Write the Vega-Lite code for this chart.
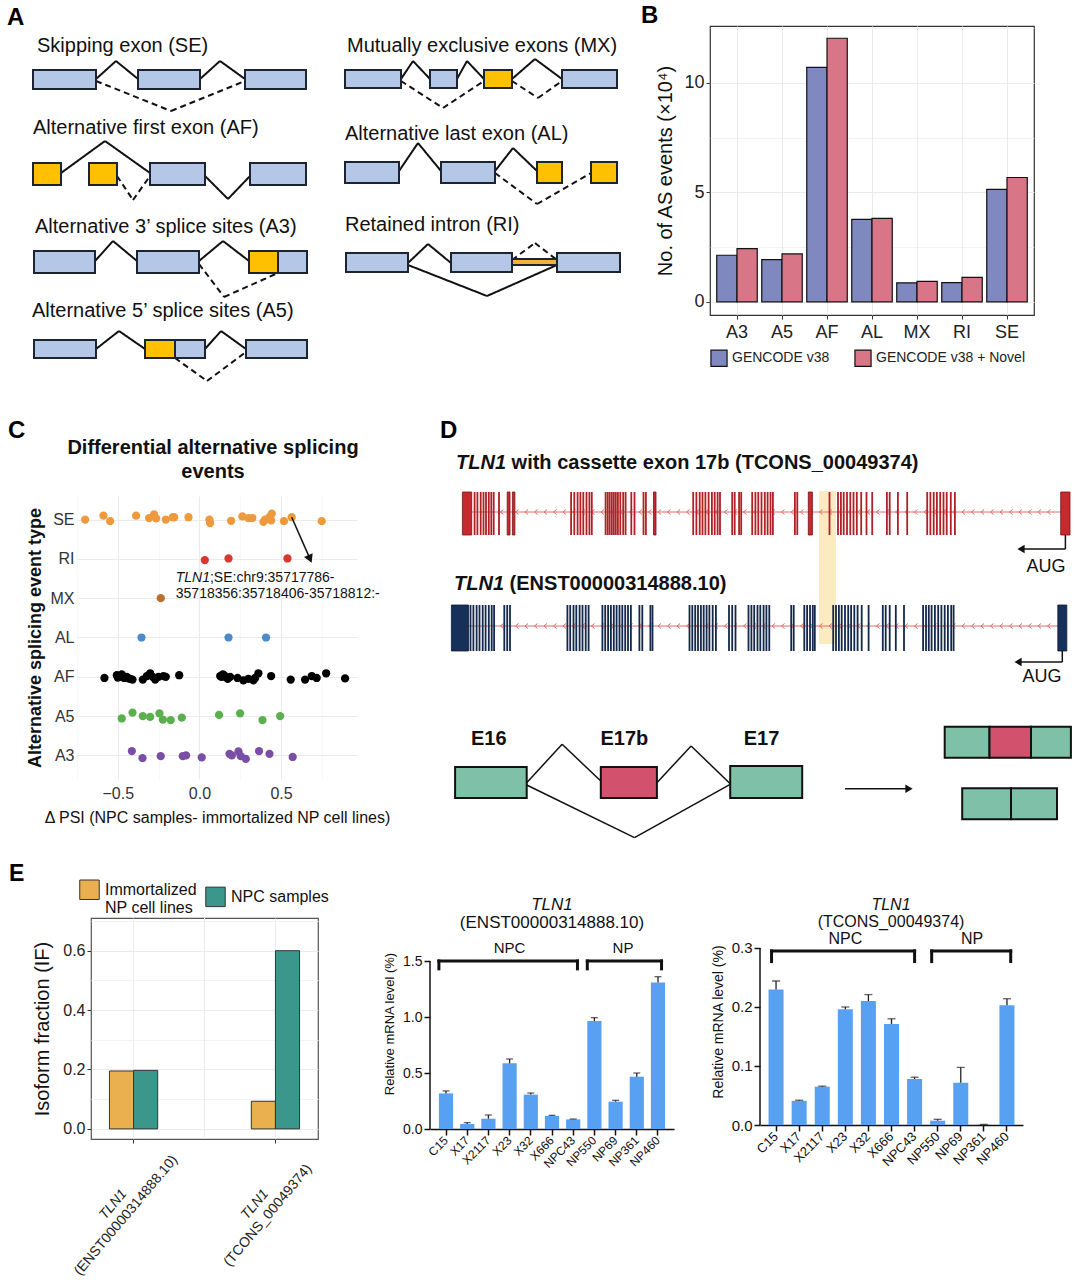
{
"$schema":"https://vega.github.io/schema/vega-lite/v6.json",
"padding":0,
"background":"white",
"spacing":20,
"config":{"font":"Liberation Sans","view":{"stroke":null}},
"resolve":{"scale":{"color":"independent","fill":"independent","shape":"independent","strokeDash":"independent","xOffset":"independent","x":"independent","y":"independent"},"legend":{"color":"independent","fill":"independent","shape":"independent","strokeDash":"independent"}},
"vconcat":[
{"hconcat":[
{"width":640,"height":370,
"layer":[
{"data":{"values":[
{"x1":96,"y1":78,"x2":116,"y2":60,"d":"s"},{"x1":116,"y1":60,"x2":138,"y2":78,"d":"s"},{"x1":200,"y1":78,"x2":220,"y2":60,"d":"s"},{"x1":220,"y1":60,"x2":245,"y2":78,"d":"s"},{"x1":96,"y1":80,"x2":171,"y2":110,"d":"d"},{"x1":171,"y1":110,"x2":245,"y2":80,"d":"d"},
{"x1":61,"y1":172,"x2":105,"y2":140,"d":"s"},{"x1":105,"y1":140,"x2":150,"y2":172,"d":"s"},{"x1":205,"y1":175,"x2":228,"y2":198,"d":"s"},{"x1":228,"y1":198,"x2":250,"y2":175,"d":"s"},{"x1":117,"y1":175,"x2":133,"y2":199,"d":"d"},{"x1":133,"y1":199,"x2":150,"y2":175,"d":"d"},
{"x1":95,"y1":260,"x2":113,"y2":240,"d":"s"},{"x1":113,"y1":240,"x2":137,"y2":260,"d":"s"},{"x1":199,"y1":260,"x2":223,"y2":240,"d":"s"},{"x1":223,"y1":240,"x2":249,"y2":260,"d":"s"},{"x1":199,"y1":263,"x2":224,"y2":296,"d":"d"},{"x1":224,"y1":296,"x2":278,"y2":272,"d":"d"},
{"x1":96,"y1":348,"x2":119,"y2":330,"d":"s"},{"x1":119,"y1":330,"x2":145,"y2":348,"d":"s"},{"x1":205,"y1":348,"x2":221,"y2":330,"d":"s"},{"x1":221,"y1":330,"x2":246,"y2":348,"d":"s"},{"x1":175,"y1":357,"x2":207,"y2":380,"d":"d"},{"x1":207,"y1":380,"x2":246,"y2":351,"d":"d"},
{"x1":401,"y1":78,"x2":413,"y2":60,"d":"s"},{"x1":413,"y1":60,"x2":430,"y2":78,"d":"s"},{"x1":457,"y1":78,"x2":467,"y2":60,"d":"s"},{"x1":467,"y1":60,"x2":484,"y2":78,"d":"s"},{"x1":512,"y1":78,"x2":535,"y2":58,"d":"s"},{"x1":535,"y1":58,"x2":562,"y2":78,"d":"s"},{"x1":401,"y1":80,"x2":443,"y2":107,"d":"d"},{"x1":443,"y1":107,"x2":484,"y2":80,"d":"d"},{"x1":512,"y1":80,"x2":538,"y2":97,"d":"d"},{"x1":538,"y1":97,"x2":562,"y2":80,"d":"d"},
{"x1":399,"y1":170,"x2":418,"y2":142,"d":"s"},{"x1":418,"y1":142,"x2":441,"y2":170,"d":"s"},{"x1":495,"y1":170,"x2":513,"y2":147,"d":"s"},{"x1":513,"y1":147,"x2":537,"y2":170,"d":"s"},{"x1":495,"y1":172,"x2":537,"y2":203,"d":"d"},{"x1":537,"y1":203,"x2":591,"y2":172,"d":"d"},
{"x1":408,"y1":262,"x2":428,"y2":243,"d":"s"},{"x1":428,"y1":243,"x2":451,"y2":262,"d":"s"},{"x1":408,"y1":264,"x2":487,"y2":295,"d":"s"},{"x1":487,"y1":295,"x2":557,"y2":264,"d":"s"},{"x1":512,"y1":259,"x2":535,"y2":242,"d":"d"},{"x1":535,"y1":242,"x2":557,"y2":259,"d":"d"}
]},
"mark":{"type":"rule","color":"#111111","strokeWidth":2},
"encoding":{
"x":{"field":"x1","type":"quantitative","scale":{"domain":[0,640],"nice":false,"zero":false},"axis":null},
"x2":{"field":"x2"},
"y":{"field":"y1","type":"quantitative","scale":{"domain":[25,395],"nice":false,"zero":false,"reverse":true},"axis":null},
"y2":{"field":"y2"},
"strokeDash":{"field":"d","type":"nominal","scale":{"domain":["s","d"],"range":[[1,0],[6,4]]},"legend":null}}},
{"data":{"values":[
{"x1":33,"x2":96,"y1":69,"y2":88,"t":"c"},{"x1":138,"x2":200,"y1":69,"y2":88,"t":"c"},{"x1":245,"x2":306,"y1":69,"y2":88,"t":"c"},
{"x1":33,"x2":61,"y1":162,"y2":184,"t":"a"},{"x1":89,"x2":117,"y1":162,"y2":184,"t":"a"},{"x1":150,"x2":205,"y1":162,"y2":184,"t":"c"},{"x1":250,"x2":306,"y1":162,"y2":184,"t":"c"},
{"x1":34,"x2":95,"y1":250,"y2":272,"t":"c"},{"x1":137,"x2":199,"y1":250,"y2":272,"t":"c"},{"x1":249,"x2":278,"y1":250,"y2":272,"t":"a"},{"x1":278,"x2":307,"y1":250,"y2":272,"t":"c"},
{"x1":34,"x2":96,"y1":339,"y2":357,"t":"c"},{"x1":145,"x2":175,"y1":339,"y2":357,"t":"a"},{"x1":175,"x2":205,"y1":339,"y2":357,"t":"c"},{"x1":246,"x2":307,"y1":339,"y2":357,"t":"c"},
{"x1":345,"x2":401,"y1":69,"y2":87,"t":"c"},{"x1":430,"x2":457,"y1":69,"y2":87,"t":"c"},{"x1":484,"x2":512,"y1":69,"y2":87,"t":"a"},{"x1":562,"x2":617,"y1":69,"y2":87,"t":"c"},
{"x1":345,"x2":399,"y1":161,"y2":182,"t":"c"},{"x1":441,"x2":495,"y1":161,"y2":182,"t":"c"},{"x1":537,"x2":562,"y1":161,"y2":182,"t":"a"},{"x1":591,"x2":617,"y1":161,"y2":182,"t":"a"},
{"x1":346,"x2":408,"y1":252,"y2":271,"t":"c"},{"x1":451,"x2":512,"y1":252,"y2":271,"t":"c"},{"x1":557,"x2":620,"y1":252,"y2":271,"t":"c"},{"x1":512,"x2":557,"y1":258,"y2":264,"t":"i"}
]},
"mark":{"type":"rect","stroke":"#1b2430","strokeWidth":2},
"encoding":{
"x":{"field":"x1","type":"quantitative","scale":{"domain":[0,640],"nice":false,"zero":false},"axis":null},
"x2":{"field":"x2"},
"y":{"field":"y1","type":"quantitative","scale":{"domain":[25,395],"nice":false,"zero":false,"reverse":true},"axis":null},
"y2":{"field":"y2"},
"fill":{"field":"t","type":"nominal","scale":{"domain":["c","a","i"],"range":["#B4C7E7","#FFC000","#F5B335"]},"legend":null}}},
{"data":{"values":[
{"tx":37,"ty":45,"label":"Skipping exon (SE)"},
{"tx":33,"ty":127,"label":"Alternative first exon (AF)"},
{"tx":35,"ty":226,"label":"Alternative 3’ splice sites (A3)"},
{"tx":32,"ty":310,"label":"Alternative 5’ splice sites (A5)"},
{"tx":347,"ty":45,"label":"Mutually exclusive exons (MX)"},
{"tx":345,"ty":133,"label":"Alternative last exon (AL)"},
{"tx":345,"ty":224,"label":"Retained intron (RI)"}
]},
"mark":{"type":"text","align":"left","baseline":"middle","fontSize":20,"color":"#111111"},
"encoding":{
"x":{"field":"tx","type":"quantitative","scale":{"domain":[0,640],"nice":false,"zero":false},"axis":null},
"y":{"field":"ty","type":"quantitative","scale":{"domain":[25,395],"nice":false,"zero":false,"reverse":true},"axis":null},
"text":{"field":"label"}}},
{"data":{"values":[{"tx":7,"ty":5,"label":"A"}]},
"mark":{"type":"text","align":"left","baseline":"top","fontSize":24,"fontWeight":"bold","color":"#000000"},
"encoding":{
"x":{"field":"tx","type":"quantitative","scale":{"domain":[0,640],"nice":false,"zero":false},"axis":null},
"y":{"field":"ty","type":"quantitative","scale":{"domain":[25,395],"nice":false,"zero":false,"reverse":true},"axis":null},
"text":{"field":"label"}}}
]},
{"width":324,"height":289,
"view":{"stroke":"#333333","strokeWidth":1.2},
"layer":[
{"data":{"values":[
{"type":"A3","annot":"GENCODE v38","value":2.13},{"type":"A3","annot":"GENCODE v38 + Novel","value":2.43},
{"type":"A5","annot":"GENCODE v38","value":1.93},{"type":"A5","annot":"GENCODE v38 + Novel","value":2.19},
{"type":"AF","annot":"GENCODE v38","value":10.71},{"type":"AF","annot":"GENCODE v38 + Novel","value":12.04},
{"type":"AL","annot":"GENCODE v38","value":3.77},{"type":"AL","annot":"GENCODE v38 + Novel","value":3.81},
{"type":"MX","annot":"GENCODE v38","value":0.87},{"type":"MX","annot":"GENCODE v38 + Novel","value":0.94},
{"type":"RI","annot":"GENCODE v38","value":0.88},{"type":"RI","annot":"GENCODE v38 + Novel","value":1.12},
{"type":"SE","annot":"GENCODE v38","value":5.14},{"type":"SE","annot":"GENCODE v38 + Novel","value":5.68}
]},
"mark":{"type":"bar","stroke":"#111111","strokeWidth":1.2},
"encoding":{
"x":{"field":"type","type":"nominal","scale":{"domain":["A3","A5","AF","AL","MX","RI","SE"],"paddingInner":0.1,"paddingOuter":0.15},
"axis":{"title":null,"labelAngle":0,"labelFontSize":18,"labelColor":"#222222","labelPadding":4,"tickSize":4,"tickColor":"#333333","domain":false,"grid":true,"gridColor":"#EBEBEB","bandPosition":0.5}},
"xOffset":{"field":"annot","type":"nominal","scale":{"domain":["GENCODE v38","GENCODE v38 + Novel"]}},
"y":{"field":"value","type":"quantitative","stack":null,"scale":{"domain":[-0.6,12.6],"nice":false,"zero":false},
"axis":{"values":[0,2.5,5,7.5,10,12.5],"labelExpr":"datum.value % 5 == 0 ? format(datum.value, 'd') : ''","title":"No. of AS events (×10⁴)","titleFontSize":20,"titleFontWeight":"normal","titleColor":"#111111","titlePadding":8,"labelFontSize":18,"labelColor":"#222222","tickSize":4,"tickColor":{"condition":{"test":"datum.value % 5 != 0","value":"transparent"},"value":"#333333"},"domain":false,"grid":true,"gridColor":"#EBEBEB","gridWidth":{"condition":{"test":"datum.value % 5 != 0","value":0.6},"value":1.1}}},
"color":{"field":"annot","type":"nominal","scale":{"domain":["GENCODE v38","GENCODE v38 + Novel"],"range":["#8088C0","#D87688"]},
"legend":{"orient":"bottom","direction":"horizontal","title":null,"symbolType":"square","symbolSize":260,"symbolStrokeColor":"#111111","symbolStrokeWidth":1.2,"labelFontSize":14,"labelColor":"#222222","columnPadding":22,"offset":8,"labelLimit":0}}}},
{"data":{"values":[{}]},"mark":{"type":"text","text":"B","fontSize":24,"fontWeight":"bold","align":"left","baseline":"top","color":"#000000"},"encoding":{"x":{"value":-69},"y":{"value":-22}}},
{"data":{"values":[{}]},"mark":{"type":"text","text":"\u00a0","fontSize":10,"align":"left","baseline":"top"},"encoding":{"x":{"value":-69},"y":{"value":-25}}}
]}
],"spacing":0,
"resolve":{"scale":{"color":"independent","fill":"independent","shape":"independent","strokeDash":"independent","xOffset":"independent"},"legend":{"color":"independent","fill":"independent","shape":"independent","strokeDash":"independent"}}},
{"hconcat":[
{"width":8,"height":1,"data":{"values":[{}]},"mark":{"type":"text","text":"\u00a0","fontSize":10,"align":"left","baseline":"top"},"encoding":{"x":{"value":0},"y":{"value":0}}},
{"width":280,"height":283,
"layer":[
{"data":{"values":[
{"t":"SE","d":-0.70,"yv":7.0},{"t":"SE","d":-0.588,"yv":7.10},{"t":"SE","d":-0.547,"yv":6.96},{"t":"SE","d":-0.388,"yv":7.10},{"t":"SE","d":-0.308,"yv":7.04},{"t":"SE","d":-0.278,"yv":7.13},{"t":"SE","d":-0.265,"yv":7.03},{"t":"SE","d":-0.206,"yv":7.0},{"t":"SE","d":-0.163,"yv":7.06},{"t":"SE","d":-0.155,"yv":7.06},{"t":"SE","d":-0.067,"yv":7.06},{"t":"SE","d":0.061,"yv":7.0},{"t":"SE","d":0.065,"yv":6.91},{"t":"SE","d":0.194,"yv":6.97},{"t":"SE","d":0.263,"yv":7.08},{"t":"SE","d":0.30,"yv":7.04},{"t":"SE","d":0.324,"yv":7.04},{"t":"SE","d":0.392,"yv":6.94},{"t":"SE","d":0.402,"yv":7.0},{"t":"SE","d":0.429,"yv":7.06},{"t":"SE","d":0.443,"yv":7.15},{"t":"SE","d":0.439,"yv":6.98},{"t":"SE","d":0.518,"yv":6.96},{"t":"SE","d":0.565,"yv":7.06},{"t":"SE","d":0.749,"yv":6.96},
{"t":"RI","d":0.033,"yv":5.97},{"t":"RI","d":0.178,"yv":6.01},{"t":"RI","d":0.539,"yv":6.01},
{"t":"MX","d":-0.237,"yv":5.0},
{"t":"AL","d":-0.355,"yv":4.0},{"t":"AL","d":0.178,"yv":4.0},{"t":"AL","d":0.408,"yv":4.0},
{"t":"AF","d":-0.582,"yv":2.97},{"t":"AF","d":-0.506,"yv":3.04},{"t":"AF","d":-0.5,"yv":2.98},{"t":"AF","d":-0.49,"yv":3.0},{"t":"AF","d":-0.476,"yv":3.06},{"t":"AF","d":-0.47,"yv":3.02},{"t":"AF","d":-0.461,"yv":2.97},{"t":"AF","d":-0.445,"yv":3.0},{"t":"AF","d":-0.435,"yv":2.96},{"t":"AF","d":-0.424,"yv":2.95},{"t":"AF","d":-0.41,"yv":2.93},{"t":"AF","d":-0.347,"yv":2.93},{"t":"AF","d":-0.322,"yv":3.02},{"t":"AF","d":-0.302,"yv":3.09},{"t":"AF","d":-0.286,"yv":3.0},{"t":"AF","d":-0.271,"yv":2.93},{"t":"AF","d":-0.251,"yv":3.0},{"t":"AF","d":-0.22,"yv":3.02},{"t":"AF","d":-0.206,"yv":3.0},{"t":"AF","d":-0.124,"yv":3.04},{"t":"AF","d":0.127,"yv":3.02},{"t":"AF","d":0.135,"yv":3.0},{"t":"AF","d":0.143,"yv":3.06},{"t":"AF","d":0.15,"yv":3.04},{"t":"AF","d":0.157,"yv":3.0},{"t":"AF","d":0.173,"yv":2.95},{"t":"AF","d":0.188,"yv":3.0},{"t":"AF","d":0.233,"yv":2.97},{"t":"AF","d":0.269,"yv":2.91},{"t":"AF","d":0.30,"yv":2.95},{"t":"AF","d":0.331,"yv":2.91},{"t":"AF","d":0.341,"yv":2.97},{"t":"AF","d":0.361,"yv":3.09},{"t":"AF","d":0.439,"yv":3.02},{"t":"AF","d":0.559,"yv":2.93},{"t":"AF","d":0.647,"yv":2.93},{"t":"AF","d":0.688,"yv":3.02},{"t":"AF","d":0.718,"yv":2.97},{"t":"AF","d":0.776,"yv":3.09},{"t":"AF","d":0.892,"yv":2.96},
{"t":"A5","d":-0.476,"yv":1.94},{"t":"A5","d":-0.41,"yv":2.09},{"t":"A5","d":-0.347,"yv":2.0},{"t":"A5","d":-0.302,"yv":1.98},{"t":"A5","d":-0.245,"yv":2.07},{"t":"A5","d":-0.224,"yv":1.91},{"t":"A5","d":-0.176,"yv":1.9},{"t":"A5","d":-0.108,"yv":1.96},{"t":"A5","d":0.12,"yv":2.03},{"t":"A5","d":0.249,"yv":2.07},{"t":"A5","d":0.386,"yv":1.9},{"t":"A5","d":0.494,"yv":2.0},
{"t":"A3","d":-0.414,"yv":1.11},{"t":"A3","d":-0.349,"yv":0.93},{"t":"A3","d":-0.237,"yv":0.98},{"t":"A3","d":-0.102,"yv":0.98},{"t":"A3","d":-0.082,"yv":1.0},{"t":"A3","d":0.014,"yv":0.95},{"t":"A3","d":0.184,"yv":1.04},{"t":"A3","d":0.198,"yv":1.0},{"t":"A3","d":0.239,"yv":1.10},{"t":"A3","d":0.253,"yv":0.98},{"t":"A3","d":0.284,"yv":0.91},{"t":"A3","d":0.365,"yv":1.11},{"t":"A3","d":0.429,"yv":1.04},{"t":"A3","d":0.571,"yv":0.96}
]},
"mark":{"type":"circle","size":68,"opacity":1},
"encoding":{
"x":{"field":"d","type":"quantitative","scale":{"domain":[-0.75,0.965],"nice":false,"zero":false},
"axis":{"values":[-0.75,-0.5,-0.25,0,0.25,0.5,0.75],"labelExpr":"abs(round(datum.value*4)) % 2 == 0 ? format(datum.value, '.1f') : ''","title":"Δ PSI (NPC samples- immortalized NP cell lines)","titleFontSize":16,"titleFontWeight":"normal","titleColor":"#111111","titlePadding":8,"labelFontSize":16,"labelColor":"#333333","labelPadding":6,"ticks":false,"domain":false,"grid":true,"gridColor":{"condition":{"test":"abs(round(datum.value*4)) % 2 != 0","value":"#F4F4F4"},"value":"#EBEBEB"},"gridWidth":{"condition":{"test":"abs(round(datum.value*4)) % 2 != 0","value":0.6},"value":1.1}}},
"y":{"field":"yv","type":"quantitative","scale":{"domain":[0.4,7.6],"nice":false,"zero":false},
"axis":{"values":[1,2,3,4,5,6,7],"labelExpr":"['','A3','A5','AF','AL','MX','RI','SE'][datum.value]","title":"Alternative splicing  event type","titleFontSize":18,"titleFontWeight":"bold","titleColor":"#111111","titlePadding":6,"labelFontSize":16,"labelColor":"#333333","labelPadding":3,"ticks":false,"domain":false,"grid":true,"gridColor":"#EBEBEB","gridWidth":1.1}},
"color":{"field":"t","type":"nominal","scale":{"domain":["SE","RI","MX","AL","AF","A5","A3"],"range":["#EE9A3C","#D8392F","#B8702F","#4A8CCB","#000000","#5BAF4E","#7B4EA6"]},"legend":null}}},
{"data":{"values":[{"x1":0.565,"y1":7.06,"x2":0.672,"y2":6.05}]},"mark":{"type":"rule","color":"#111111","strokeWidth":1.5},
"encoding":{"x":{"field":"x1","type":"quantitative"},"x2":{"field":"x2"},"y":{"field":"y1","type":"quantitative"},"y2":{"field":"y2"}}},
{"data":{"values":[{"ax":0.677,"ay":6.0}]},"mark":{"type":"point","shape":"triangle-down","angle":-24,"filled":true,"color":"#111111","size":90,"opacity":1},
"encoding":{"x":{"field":"ax","type":"quantitative"},"y":{"field":"ay","type":"quantitative"}}},
{"data":{"values":[{"ax":-0.145,"ay":5.52,"s":"TLN1"}]},"mark":{"type":"text","align":"left","baseline":"middle","fontSize":14,"fontStyle":"italic","color":"#111111"},
"encoding":{"x":{"field":"ax","type":"quantitative"},"y":{"field":"ay","type":"quantitative"},"text":{"field":"s"}}},
{"data":{"values":[{"ax":-0.145,"ay":5.52,"s":";SE:chr9:35717786-"}]},"mark":{"type":"text","align":"left","baseline":"middle","fontSize":14,"dx":34.2,"color":"#111111"},
"encoding":{"x":{"field":"ax","type":"quantitative"},"y":{"field":"ay","type":"quantitative"},"text":{"field":"s"}}},
{"data":{"values":[{"ax":-0.145,"ay":5.1,"s":"35718356:35718406-35718812:-"}]},"mark":{"type":"text","align":"left","baseline":"middle","fontSize":14,"color":"#111111"},
"encoding":{"x":{"field":"ax","type":"quantitative"},"y":{"field":"ay","type":"quantitative"},"text":{"field":"s"}}},
{"data":{"values":[{}]},"mark":{"type":"text","text":"Differential alternative splicing","fontSize":20,"fontWeight":"bold","align":"center","baseline":"middle","color":"#111111"},"encoding":{"x":{"value":136},"y":{"value":-48}}},
{"data":{"values":[{}]},"mark":{"type":"text","text":"events","fontSize":20,"fontWeight":"bold","align":"center","baseline":"middle","color":"#111111"},"encoding":{"x":{"value":136},"y":{"value":-24}}},
{"data":{"values":[{}]},"mark":{"type":"text","text":"C","fontSize":24,"fontWeight":"bold","align":"left","baseline":"top","color":"#000000"},"encoding":{"x":{"value":-69},"y":{"value":-77}}},
{"data":{"values":[{}]},"mark":{"type":"text","text":"\u00a0","fontSize":10,"align":"left","baseline":"top"},"encoding":{"x":{"value":-69},"y":{"value":-80}}},
{"data":{"values":[{}]},"mark":{"type":"text","text":"\u00a0","fontSize":10,"align":"right","baseline":"top"},"encoding":{"x":{"value":363},"y":{"value":0}}}
]},
{"width":635,"height":345,
"layer":[
{"data":{"values":[{"x1":379,"x2":396,"y1":75,"y2":228}]},"mark":{"type":"rect","fill":"#FCE9BA","opacity":0.9},
"encoding":{"x":{"field":"x1","type":"quantitative","scale":{"domain":[0,635],"nice":false,"zero":false},"axis":null},"x2":{"field":"x2"},"y":{"field":"y1","type":"quantitative","scale":{"domain":[80,425],"nice":false,"zero":false,"reverse":true},"axis":null},"y2":{"field":"y2"}}},
{"data":{"values":[{"x1":22,"x2":630,"y":96},{"x1":11,"x2":627,"y":210}]},"mark":{"type":"rule","color":"#E36B6B","strokeWidth":1},
"encoding":{"x":{"field":"x1","type":"quantitative","scale":{"domain":[0,635],"nice":false,"zero":false},"axis":null},"x2":{"field":"x2"},"y":{"field":"y","type":"quantitative","scale":{"domain":[80,425],"nice":false,"zero":false,"reverse":true},"axis":null}}},
{"data":{"name":"chev"},"mark":{"type":"point","shape":"M0.6,-1L-0.6,0L0.6,1","filled":false,"color":"#E36B6B","strokeWidth":1,"size":25,"opacity":1},
"encoding":{"x":{"field":"cx","type":"quantitative","scale":{"domain":[0,635],"nice":false,"zero":false},"axis":null},"y":{"datum":96,"type":"quantitative","scale":{"domain":[80,425],"nice":false,"zero":false,"reverse":true},"axis":null}}},
{"data":{"name":"chev"},"mark":{"type":"point","shape":"M0.6,-1L-0.6,0L0.6,1","filled":false,"color":"#E36B6B","strokeWidth":1,"size":25,"opacity":1},
"encoding":{"x":{"field":"cx","type":"quantitative","scale":{"domain":[0,635],"nice":false,"zero":false},"axis":null},"y":{"datum":210,"type":"quantitative","scale":{"domain":[80,425],"nice":false,"zero":false,"reverse":true},"axis":null}}},
{"data":{"values":[{"s":22.4,"e":31.7},{"s":67.2,"e":70.0},{"s":72.4,"e":74.9},{"s":213.5,"e":216.0},{"s":368.3,"e":372.4},{"s":620.7,"e":630.0}]},
"mark":{"type":"rect","fill":"#C62A2E","stroke":"#7A1215","strokeWidth":0.8},
"encoding":{"x":{"field":"s","type":"quantitative","scale":{"domain":[0,635],"nice":false,"zero":false},"axis":null},"x2":{"field":"e"},"y":{"datum":76,"type":"quantitative","scale":{"domain":[80,425],"nice":false,"zero":false,"reverse":true},"axis":null},"y2":{"datum":119}}},
{"data":{"values":[{"p":34.6},{"p":37.4},{"p":40.7},{"p":43.5},{"p":46.0},{"p":48.8},{"p":51.3},{"p":53.7},{"p":59.0},{"p":131.1},{"p":134.3},{"p":137.6},{"p":140.4},{"p":143.3},{"p":146.5},{"p":149.4},{"p":151.8},{"p":165.6},{"p":167.7},{"p":169.7},{"p":171.8},{"p":173.8},{"p":175.8},{"p":177.9},{"p":180.3},{"p":183.2},{"p":185.6},{"p":191.3},{"p":194.5},{"p":203.5},{"p":205.9},{"p":253.2},{"p":256.4},{"p":259.7},{"p":262.5},{"p":265.4},{"p":268.6},{"p":271.9},{"p":274.7},{"p":277.6},{"p":280.0},{"p":292.2},{"p":294.7},{"p":299.1},{"p":301.2},{"p":312.2},{"p":315.4},{"p":318.3},{"p":321.5},{"p":324.8},{"p":327.6},{"p":330.5},{"p":332.9},{"p":354.9},{"p":357.3},{"p":389.5},{"p":398.0},{"p":400.9},{"p":403.7},{"p":407.0},{"p":410.3},{"p":413.5},{"p":416.8},{"p":421.2},{"p":426.5},{"p":432.2},{"p":446.9},{"p":449.7},{"p":457.9},{"p":467.2},{"p":487.2},{"p":490.4},{"p":493.7},{"p":496.9},{"p":500.2},{"p":503.5},{"p":506.7},{"p":510.8},{"p":514.9}]},
"mark":{"type":"rule","color":"#B02024","strokeWidth":1.8},
"encoding":{"x":{"field":"p","type":"quantitative","scale":{"domain":[0,635],"nice":false,"zero":false},"axis":null},"y":{"datum":76,"type":"quantitative","scale":{"domain":[80,425],"nice":false,"zero":false,"reverse":true},"axis":null},"y2":{"datum":119}}},
{"data":{"values":[{"s":11.4,"e":28.5},{"s":617.8,"e":626.8}]},
"mark":{"type":"rect","fill":"#17305A","stroke":"#0D1B33","strokeWidth":0.8},
"encoding":{"x":{"field":"s","type":"quantitative","scale":{"domain":[0,635],"nice":false,"zero":false},"axis":null},"x2":{"field":"e"},"y":{"datum":189,"type":"quantitative","scale":{"domain":[80,425],"nice":false,"zero":false,"reverse":true},"axis":null},"y2":{"datum":235}}},
{"data":{"values":[{"p":30.5},{"p":33.4},{"p":36.6},{"p":39.5},{"p":42.7},{"p":45.6},{"p":48.8},{"p":51.7},{"p":54.1},{"p":64.3},{"p":67.2},{"p":70.0},{"p":127.4},{"p":130.2},{"p":133.5},{"p":136.3},{"p":139.6},{"p":142.5},{"p":145.7},{"p":148.6},{"p":162.4},{"p":165.2},{"p":168.1},{"p":170.9},{"p":173.8},{"p":176.6},{"p":179.5},{"p":182.3},{"p":185.2},{"p":188.0},{"p":190.9},{"p":199.4},{"p":202.3},{"p":210.4},{"p":212.5},{"p":249.5},{"p":252.3},{"p":255.2},{"p":258.0},{"p":260.9},{"p":263.7},{"p":266.6},{"p":269.4},{"p":272.7},{"p":275.9},{"p":289.0},{"p":292.2},{"p":295.5},{"p":308.5},{"p":311.4},{"p":314.2},{"p":317.5},{"p":320.3},{"p":323.6},{"p":326.4},{"p":329.3},{"p":351.2},{"p":353.7},{"p":364.3},{"p":367.1},{"p":370.0},{"p":372.8},{"p":374.8},{"p":393.2},{"p":396.0},{"p":398.9},{"p":401.7},{"p":405.0},{"p":408.2},{"p":411.1},{"p":414.3},{"p":417.6},{"p":421.7},{"p":428.6},{"p":442.8},{"p":445.7},{"p":449.7},{"p":455.8},{"p":464.0},{"p":483.1},{"p":486.0},{"p":488.8},{"p":491.6},{"p":494.9},{"p":498.2},{"p":501.4},{"p":504.7},{"p":507.9},{"p":511.2},{"p":513.6}]},
"mark":{"type":"rule","color":"#14284B","strokeWidth":1.8},
"encoding":{"x":{"field":"p","type":"quantitative","scale":{"domain":[0,635],"nice":false,"zero":false},"axis":null},"y":{"datum":189,"type":"quantitative","scale":{"domain":[80,425],"nice":false,"zero":false,"reverse":true},"axis":null},"y2":{"datum":235}}},
{"data":{"values":[
{"x1":625.4,"y1":119,"x2":625.4,"y2":133},{"x1":625.4,"y1":133,"x2":583,"y2":133},
{"x1":622.3,"y1":235,"x2":622.3,"y2":246},{"x1":622.3,"y1":246,"x2":580,"y2":246},
{"x1":86.7,"y1":366.7,"x2":122.1,"y2":328.3},{"x1":122.1,"y1":328.3,"x2":160.8,"y2":365},
{"x1":216.9,"y1":366.7,"x2":251.1,"y2":330},{"x1":251.1,"y1":330,"x2":290.2,"y2":367.7},
{"x1":86.7,"y1":369,"x2":194.5,"y2":421.7},{"x1":194.5,"y1":421.7,"x2":290.2,"y2":368.3},
{"x1":405,"y1":372.7,"x2":466,"y2":372.7}
]},
"mark":{"type":"rule","color":"#111111","strokeWidth":1.5},
"encoding":{"x":{"field":"x1","type":"quantitative","scale":{"domain":[0,635],"nice":false,"zero":false},"axis":null},"x2":{"field":"x2"},"y":{"field":"y1","type":"quantitative","scale":{"domain":[80,425],"nice":false,"zero":false,"reverse":true},"axis":null},"y2":{"field":"y2"}}},
{"data":{"values":[{"hx":581,"hy":133,"sh":"l"},{"hx":578,"hy":246,"sh":"l"},{"hx":469,"hy":372.7,"sh":"r"}]},
"mark":{"type":"point","filled":true,"color":"#111111","size":70,"opacity":1},
"encoding":{"x":{"field":"hx","type":"quantitative","scale":{"domain":[0,635],"nice":false,"zero":false},"axis":null},"y":{"field":"hy","type":"quantitative","scale":{"domain":[80,425],"nice":false,"zero":false,"reverse":true},"axis":null},
"shape":{"field":"sh","type":"nominal","scale":{"domain":["l","r"],"range":["triangle-left","triangle-right"]},"legend":null}}},
{"data":{"values":[{"tx":606,"ty":151,"s":"AUG"},{"tx":602,"ty":261,"s":"AUG"}]},
"mark":{"type":"text","align":"center","baseline":"middle","fontSize":18,"color":"#111111"},
"encoding":{"x":{"field":"tx","type":"quantitative","scale":{"domain":[0,635],"nice":false,"zero":false},"axis":null},"y":{"field":"ty","type":"quantitative","scale":{"domain":[80,425],"nice":false,"zero":false,"reverse":true},"axis":null},"text":{"field":"s"}}},
{"data":{"values":[{"tx":16,"ty":47,"s":"TLN1"},{"tx":14,"ty":168,"s":"TLN1"}]},
"mark":{"type":"text","align":"left","baseline":"middle","fontSize":20,"fontWeight":"bold","fontStyle":"italic","color":"#111111"},
"encoding":{"x":{"field":"tx","type":"quantitative","scale":{"domain":[0,635],"nice":false,"zero":false},"axis":null},"y":{"field":"ty","type":"quantitative","scale":{"domain":[80,425],"nice":false,"zero":false,"reverse":true},"axis":null},"text":{"field":"s"}}},
{"data":{"values":[{"tx":16,"ty":47,"s":"with cassette exon 17b (TCONS_00049374)"},{"tx":14,"ty":168,"s":"(ENST00000314888.10)"}]},
"mark":{"type":"text","align":"left","baseline":"middle","fontSize":20,"fontWeight":"bold","dx":55.6,"color":"#111111"},
"encoding":{"x":{"field":"tx","type":"quantitative","scale":{"domain":[0,635],"nice":false,"zero":false},"axis":null},"y":{"field":"ty","type":"quantitative","scale":{"domain":[80,425],"nice":false,"zero":false,"reverse":true},"axis":null},"text":{"field":"s"}}},
{"data":{"values":[
{"x1":15.1,"x2":86.7,"y1":351,"y2":382,"c":"t"},{"x1":160.8,"x2":216.9,"y1":351,"y2":382,"c":"r"},{"x1":290.2,"x2":362.2,"y1":350,"y2":382,"c":"t"},
{"x1":504.7,"x2":549.5,"y1":310.7,"y2":341.7,"c":"t"},{"x1":549.5,"x2":591,"y1":310.7,"y2":341.7,"c":"r"},{"x1":591,"x2":630.9,"y1":310.7,"y2":341.7,"c":"t"},
{"x1":522.2,"x2":571,"y1":372.3,"y2":403.3,"c":"t"},{"x1":571,"x2":617,"y1":372.3,"y2":403.3,"c":"t"}
]},
"mark":{"type":"rect","stroke":"#111111","strokeWidth":2},
"encoding":{"x":{"field":"x1","type":"quantitative","scale":{"domain":[0,635],"nice":false,"zero":false},"axis":null},"x2":{"field":"x2"},"y":{"field":"y1","type":"quantitative","scale":{"domain":[80,425],"nice":false,"zero":false,"reverse":true},"axis":null},"y2":{"field":"y2"},
"fill":{"field":"c","type":"nominal","scale":{"domain":["t","r"],"range":["#7FC0A8","#D2526E"]},"legend":null}}},
{"data":{"values":[{"tx":48.8,"ty":323,"s":"E16"},{"tx":184.4,"ty":323,"s":"E17b"},{"tx":321.5,"ty":323,"s":"E17"}]},
"mark":{"type":"text","align":"center","baseline":"middle","fontSize":20,"fontWeight":"bold","color":"#111111"},
"encoding":{"x":{"field":"tx","type":"quantitative","scale":{"domain":[0,635],"nice":false,"zero":false},"axis":null},"y":{"field":"ty","type":"quantitative","scale":{"domain":[80,425],"nice":false,"zero":false,"reverse":true},"axis":null},"text":{"field":"s"}}},
{"data":{"values":[{"tx":0,"ty":3,"s":"D"}]},
"mark":{"type":"text","align":"left","baseline":"top","fontSize":24,"fontWeight":"bold","color":"#000000"},
"encoding":{"x":{"field":"tx","type":"quantitative","scale":{"domain":[0,635],"nice":false,"zero":false},"axis":null},"y":{"field":"ty","type":"quantitative","scale":{"domain":[80,425],"nice":false,"zero":false,"reverse":true},"axis":null},"text":{"field":"s"}}}
]}
],"spacing":0,
"resolve":{"scale":{"color":"independent","fill":"independent","shape":"independent","strokeDash":"independent","xOffset":"independent"},"legend":{"color":"independent","fill":"independent","shape":"independent","strokeDash":"independent"}}},
{"hconcat":[
{"width":8,"height":1,"data":{"values":[{}]},"mark":{"type":"text","text":"\u00a0","fontSize":10,"align":"left","baseline":"top"},"encoding":{"x":{"value":0},"y":{"value":0}}},
{"width":227,"height":221,
"view":{"stroke":"#555555","strokeWidth":1.2},
"layer":[
{"data":{"values":[{}]},"mark":{"type":"rule","color":"#EBEBEB","strokeWidth":1},"encoding":{"x":{"datum":"TLN1|(TCONS_00049374)","bandPosition":-0.97}}},
{"data":{"values":[
{"iso":"TLN1|(ENST00000314888.10)","grp":"Immortalized|NP cell lines","IF":0.195},
{"iso":"TLN1|(ENST00000314888.10)","grp":"NPC samples","IF":0.197},
{"iso":"TLN1|(TCONS_00049374)","grp":"Immortalized|NP cell lines","IF":0.093},
{"iso":"TLN1|(TCONS_00049374)","grp":"NPC samples","IF":0.600}
]},
"mark":{"type":"bar","stroke":"#333333","strokeWidth":1},
"encoding":{
"x":{"field":"iso","type":"nominal","scale":{"domain":["TLN1|(ENST00000314888.10)","TLN1|(TCONS_00049374)"],"paddingInner":0.66,"paddingOuter":0.13},
"axis":{"title":null,"labels":false,"tickSize":4,"tickColor":"#333333","domain":false,"grid":true,"gridColor":"#EBEBEB","bandPosition":0.5}},
"xOffset":{"field":"grp","type":"nominal","scale":{"domain":["Immortalized|NP cell lines","NPC samples"]}},
"y":{"field":"IF","type":"quantitative","stack":null,"scale":{"domain":[-0.034,0.71],"nice":false,"zero":false},
"axis":{"values":[0,0.1,0.2,0.3,0.4,0.5,0.6,0.7],"labelExpr":"round(datum.value*10) % 2 == 0 ? format(datum.value, '.1f') : ''","title":"Isoform fraction (IF)","titleFontSize":20,"titleFontWeight":"normal","titleColor":"#111111","titlePadding":10,"labelFontSize":16,"labelColor":"#222222","tickSize":4,"tickColor":{"condition":{"test":"round(datum.value*10) % 2 != 0","value":"transparent"},"value":"#333333"},"domain":false,"grid":true,"gridColor":{"condition":{"test":"round(datum.value*10) % 2 != 0","value":"#F3F3F3"},"value":"#EBEBEB"}}},
"color":{"field":"grp","type":"nominal","scale":{"domain":["Immortalized|NP cell lines","NPC samples"],"range":["#EAB04F","#3B978C"]},
"legend":{"orient":"none","legendX":-12,"legendY":-39,"direction":"horizontal","title":null,"labelExpr":"split(datum.label, '|')","labelFontSize":16,"labelColor":"#111111","symbolType":"square","symbolSize":380,"symbolStrokeColor":"#333333","symbolStrokeWidth":1,"symbolOpacity":1,"columnPadding":6,"labelLimit":0,"labelOffset":5}}}},
{"data":{"values":[{"iso":"TLN1|(ENST00000314888.10)","l1":"TLN1","l2":"(ENST00000314888.10)"},{"iso":"TLN1|(TCONS_00049374)","l1":"TLN1","l2":"(TCONS_00049374)"}]},
"mark":{"type":"text","angle":-50,"align":"center","baseline":"middle","fontSize":14,"fontStyle":"italic","dy":-8.5,"color":"#222222"},
"encoding":{"x":{"field":"iso","type":"nominal","bandPosition":0.21},"y":{"value":292},"text":{"field":"l1"}}},
{"data":{"values":[{"iso":"TLN1|(ENST00000314888.10)","l1":"TLN1","l2":"(ENST00000314888.10)"},{"iso":"TLN1|(TCONS_00049374)","l1":"TLN1","l2":"(TCONS_00049374)"}]},
"mark":{"type":"text","angle":-50,"align":"center","baseline":"middle","fontSize":14,"dy":8.5,"color":"#222222"},
"encoding":{"x":{"field":"iso","type":"nominal","bandPosition":0.21},"y":{"value":292},"text":{"field":"l2"}}},
{"data":{"values":[{}]},"mark":{"type":"text","text":"E","fontSize":23,"fontWeight":"bold","align":"left","baseline":"top","color":"#000000"},"encoding":{"x":{"value":-82},"y":{"value":-55}}},
{"data":{"values":[{}]},"mark":{"type":"text","text":"\u00a0","fontSize":10,"align":"left","baseline":"top"},"encoding":{"x":{"value":-82},"y":{"value":-56}}},
{"data":{"values":[{}]},"mark":{"type":"text","text":"\u00a0","fontSize":10,"align":"right","baseline":"top"},"encoding":{"x":{"value":250},"y":{"value":0}}}
]},
{"width":244,"height":211,
"data":{"values":[
{"s":"C15","v":0.318,"hi":0.340},{"s":"X17","v":0.045,"hi":0.057},{"s":"X2117","v":0.092,"hi":0.125},{"s":"X23","v":0.586,"hi":0.625},{"s":"X32","v":0.307,"hi":0.321},{"s":"X666","v":0.116,"hi":0.122},{"s":"NPC43","v":0.086,"hi":0.089},{"s":"NP550","v":0.964,"hi":0.994},{"s":"NP69","v":0.244,"hi":0.256},{"s":"NP361","v":0.467,"hi":0.500},{"s":"NP460","v":1.307,"hi":1.360}
]},
"layer":[
{"mark":{"type":"bar","color":"#58A0F2"},
"encoding":{
"x":{"field":"s","type":"nominal","scale":{"domain":["C15","X17","X2117","X23","X32","X666","NPC43","NP550","NP69","NP361","NP460"],"paddingInner":0.33,"paddingOuter":0.42},
"axis":{"title":null,"labelAngle":-45,"labelAlign":"right","labelBaseline":"middle","labelFontSize":12,"labelColor":"#111111","labelPadding":3,"tickSize":6,"tickWidth":1.5,"tickColor":"#111111","domainColor":"#111111","domainWidth":1.5,"grid":false}},
"y":{"field":"v","type":"quantitative","scale":{"domain":[0,1.884],"nice":false},
"axis":{"values":[0,0.5,1,1.5],"format":".1f","title":"Relative mRNA level (%)","titleFontSize":13,"titleFontWeight":"normal","titleColor":"#111111","titlePadding":6,"labelFontSize":14,"labelColor":"#111111","tickSize":6,"tickWidth":1.5,"tickColor":"#111111","domain":false,"grid":false}}}},
{"data":{"values":[{}]},"mark":{"type":"rule","color":"#111111","strokeWidth":1.5},"encoding":{"x":{"value":0},"y":{"datum":0},"y2":{"datum":1.5}}},
{"mark":{"type":"rule","color":"#222222","strokeWidth":1.3},"encoding":{"x":{"field":"s","type":"nominal"},"y":{"field":"v","type":"quantitative"},"y2":{"field":"hi"}}},
{"mark":{"type":"tick","color":"#222222","thickness":1.3,"size":7},"encoding":{"x":{"field":"s","type":"nominal"},"y":{"field":"hi","type":"quantitative"}}},
{"data":{"values":[{}]},"mark":{"type":"rule","strokeWidth":3,"color":"#111111","strokeCap":"square"},"encoding":{"x":{"datum":"C15","bandPosition":0},"x2":{"datum":"NPC43","bandPosition":0.8},"y":{"datum":1.5}}},
{"data":{"values":[{}]},"mark":{"type":"rule","strokeWidth":3,"color":"#111111","strokeCap":"square"},"encoding":{"x":{"datum":"C15","bandPosition":0},"y":{"datum":1.5},"y2":{"datum":1.43}}},
{"data":{"values":[{}]},"mark":{"type":"rule","strokeWidth":3,"color":"#111111","strokeCap":"square"},"encoding":{"x":{"datum":"NPC43","bandPosition":0.8},"y":{"datum":1.5},"y2":{"datum":1.43}}},
{"data":{"values":[{}]},"mark":{"type":"rule","strokeWidth":3,"color":"#111111","strokeCap":"square"},"encoding":{"x":{"datum":"NP550","bandPosition":0},"x2":{"datum":"NP460","bandPosition":0.75},"y":{"datum":1.5}}},
{"data":{"values":[{}]},"mark":{"type":"rule","strokeWidth":3,"color":"#111111","strokeCap":"square"},"encoding":{"x":{"datum":"NP550","bandPosition":0},"y":{"datum":1.5},"y2":{"datum":1.43}}},
{"data":{"values":[{}]},"mark":{"type":"rule","strokeWidth":3,"color":"#111111","strokeCap":"square"},"encoding":{"x":{"datum":"NP460","bandPosition":0.75},"y":{"datum":1.5},"y2":{"datum":1.43}}},
{"data":{"values":[{}]},"mark":{"type":"text","text":"NPC","fontSize":15,"baseline":"bottom","dy":-5,"color":"#111111"},"encoding":{"x":{"datum":"X23","bandPosition":0.5},"y":{"datum":1.5}}},
{"data":{"values":[{}]},"mark":{"type":"text","text":"NP","fontSize":15,"baseline":"bottom","dy":-5,"color":"#111111"},"encoding":{"x":{"datum":"NP69","bandPosition":1.02},"y":{"datum":1.5}}},
{"data":{"values":[{}]},"mark":{"type":"text","text":"TLN1","fontSize":17,"fontStyle":"italic","align":"center","baseline":"middle","color":"#111111"},"encoding":{"x":{"value":122},"y":{"value":-13}}},
{"data":{"values":[{}]},"mark":{"type":"text","text":"(ENST00000314888.10)","fontSize":17,"align":"center","baseline":"middle","color":"#111111"},"encoding":{"x":{"value":122},"y":{"value":5}}},
{"data":{"values":[{}]},"mark":{"type":"text","text":"\u00a0","fontSize":10,"align":"left","baseline":"top"},"encoding":{"x":{"value":-88},"y":{"value":0}}},
{"data":{"values":[{}]},"mark":{"type":"text","text":"\u00a0","fontSize":10,"align":"right","baseline":"top"},"encoding":{"x":{"value":272},"y":{"value":0}}}
]},
{"width":263,"height":207,
"data":{"values":[
{"s":"C15","v":0.2295,"hi":0.244},{"s":"X17","v":0.041,"hi":0.042},{"s":"X2117","v":0.065,"hi":0.066},{"s":"X23","v":0.196,"hi":0.200},{"s":"X32","v":0.210,"hi":0.221},{"s":"X666","v":0.171,"hi":0.180},{"s":"NPC43","v":0.078,"hi":0.081},{"s":"NP550","v":0.0073,"hi":0.0096},{"s":"NP69","v":0.0716,"hi":0.0976},{"s":"NP361","v":0.0005,"hi":0.001},{"s":"NP460","v":0.203,"hi":0.214}
]},
"layer":[
{"mark":{"type":"bar","color":"#58A0F2"},
"encoding":{
"x":{"field":"s","type":"nominal","scale":{"domain":["C15","X17","X2117","X23","X32","X666","NPC43","NP550","NP69","NP361","NP460"],"paddingInner":0.35,"paddingOuter":0.37},
"axis":{"title":null,"labelAngle":-45,"labelAlign":"right","labelBaseline":"middle","labelFontSize":13,"labelColor":"#111111","labelPadding":3,"tickSize":6,"tickWidth":1.5,"tickColor":"#111111","domainColor":"#111111","domainWidth":1.5,"grid":false}},
"y":{"field":"v","type":"quantitative","scale":{"domain":[0,0.3508],"nice":false},
"axis":{"values":[0,0.1,0.2,0.3],"format":".1f","title":"Relative mRNA level (%)","titleFontSize":14,"titleFontWeight":"normal","titleColor":"#111111","titlePadding":6,"labelFontSize":15,"labelColor":"#111111","tickSize":6,"tickWidth":1.5,"tickColor":"#111111","domain":false,"grid":false}}}},
{"data":{"values":[{}]},"mark":{"type":"rule","color":"#111111","strokeWidth":1.5},"encoding":{"x":{"value":0},"y":{"datum":0},"y2":{"datum":0.3}}},
{"mark":{"type":"rule","color":"#222222","strokeWidth":1.3},"encoding":{"x":{"field":"s","type":"nominal"},"y":{"field":"v","type":"quantitative"},"y2":{"field":"hi"}}},
{"mark":{"type":"tick","color":"#222222","thickness":1.3,"size":8},"encoding":{"x":{"field":"s","type":"nominal"},"y":{"field":"hi","type":"quantitative"}}},
{"data":{"values":[{}]},"mark":{"type":"rule","strokeWidth":3,"color":"#111111","strokeCap":"square"},"encoding":{"x":{"datum":"C15","bandPosition":0.2},"x2":{"datum":"NPC43","bandPosition":0.5},"y":{"datum":0.295}}},
{"data":{"values":[{}]},"mark":{"type":"rule","strokeWidth":3,"color":"#111111","strokeCap":"square"},"encoding":{"x":{"datum":"C15","bandPosition":0.2},"y":{"datum":0.295},"y2":{"datum":0.277}}},
{"data":{"values":[{}]},"mark":{"type":"rule","strokeWidth":3,"color":"#111111","strokeCap":"square"},"encoding":{"x":{"datum":"NPC43","bandPosition":0.5},"y":{"datum":0.295},"y2":{"datum":0.277}}},
{"data":{"values":[{}]},"mark":{"type":"rule","strokeWidth":3,"color":"#111111","strokeCap":"square"},"encoding":{"x":{"datum":"NP550","bandPosition":0.1},"x2":{"datum":"NP460","bandPosition":0.75},"y":{"datum":0.295}}},
{"data":{"values":[{}]},"mark":{"type":"rule","strokeWidth":3,"color":"#111111","strokeCap":"square"},"encoding":{"x":{"datum":"NP550","bandPosition":0.1},"y":{"datum":0.295},"y2":{"datum":0.277}}},
{"data":{"values":[{}]},"mark":{"type":"rule","strokeWidth":3,"color":"#111111","strokeCap":"square"},"encoding":{"x":{"datum":"NP460","bandPosition":0.75},"y":{"datum":0.295},"y2":{"datum":0.277}}},
{"data":{"values":[{}]},"mark":{"type":"text","text":"NPC","fontSize":16,"baseline":"bottom","dy":-4,"color":"#111111"},"encoding":{"x":{"datum":"X23","bandPosition":0.5},"y":{"datum":0.295}}},
{"data":{"values":[{}]},"mark":{"type":"text","text":"NP","fontSize":16,"baseline":"bottom","dy":-4,"color":"#111111"},"encoding":{"x":{"datum":"NP69","bandPosition":1.25},"y":{"datum":0.295}}},
{"data":{"values":[{}]},"mark":{"type":"text","text":"TLN1","fontSize":16,"fontStyle":"italic","align":"center","baseline":"middle","color":"#111111"},"encoding":{"x":{"value":131},"y":{"value":-13}}},
{"data":{"values":[{}]},"mark":{"type":"text","text":"(TCONS_00049374)","fontSize":16,"align":"center","baseline":"middle","color":"#111111"},"encoding":{"x":{"value":131},"y":{"value":4}}},
{"data":{"values":[{}]},"mark":{"type":"text","text":"\u00a0","fontSize":10,"align":"left","baseline":"top"},"encoding":{"x":{"value":-58},"y":{"value":0}}}
]}
],"spacing":0,
"resolve":{"scale":{"color":"independent","fill":"independent","shape":"independent","strokeDash":"independent","xOffset":"independent"},"legend":{"color":"independent","fill":"independent","shape":"independent","strokeDash":"independent"}}}
],
"datasets":{"chev":[{"cx":62},{"cx":77},{"cx":86.5},{"cx":96},{"cx":105.5},{"cx":115},{"cx":124.5},{"cx":134},{"cx":143.5},{"cx":153},{"cx":162.5},{"cx":172},{"cx":181.5},{"cx":191},{"cx":200.5},{"cx":210},{"cx":219.5},{"cx":229},{"cx":238.5},{"cx":248},{"cx":257.5},{"cx":267},{"cx":276.5},{"cx":286},{"cx":295.5},{"cx":305},{"cx":314.5},{"cx":324},{"cx":333.5},{"cx":343},{"cx":352.5},{"cx":362},{"cx":371.5},{"cx":381},{"cx":390.5},{"cx":400},{"cx":409.5},{"cx":419},{"cx":428.5},{"cx":438},{"cx":447.5},{"cx":457},{"cx":466.5},{"cx":476},{"cx":485.5},{"cx":495},{"cx":504.5},{"cx":514},{"cx":523.5},{"cx":533},{"cx":542.5},{"cx":552},{"cx":561.5},{"cx":571},{"cx":580.5},{"cx":590},{"cx":599.5},{"cx":609}]}
}
